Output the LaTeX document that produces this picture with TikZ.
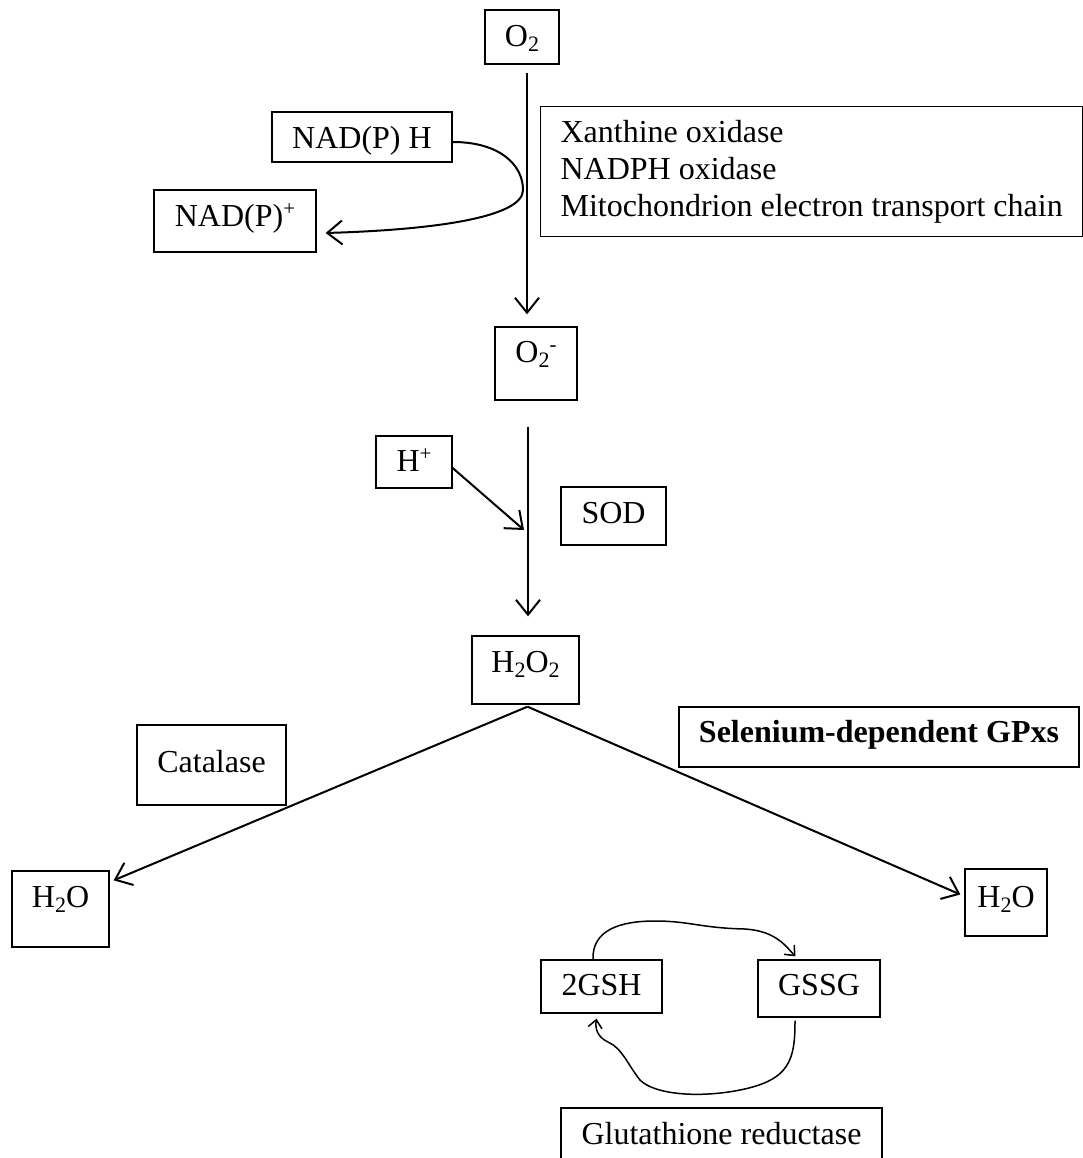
\documentclass[tikz,border=0pt]{standalone}
\usepackage{fontspec}
\setmainfont{Liberation Serif}
\usetikzlibrary{arrows.meta,calc}
\newcommand\sbs[1]{\raisebox{-5pt}{\fontsize{22}{22}\selectfont #1}}
\newcommand\sps[1]{\raisebox{11pt}{\fontsize{21}{21}\selectfont #1}}
\begin{document}
\begin{tikzpicture}[x=1pt,y=-1pt,
  font=\fontsize{32}{37}\selectfont,
  box/.style={draw, line width=1.3pt, inner sep=0pt, anchor=base},
  conn/.style={line width=2pt, -{Straight Barb[length=15pt,width=24pt]}},
  hand/.style={line width=1.5pt, line join=round, -{Straight Barb[length=8pt,width=14pt]}}]
\useasboundingbox (0,0) rectangle (1082,1158);
% boxes
\node[box, minimum width=74, text height=37, text depth=17] (o2) at (522,47) {O\sbs{2}};
\node[box, minimum width=180, text height=37, text depth=13] (nadh) at (362,149) {NAD(P) H};
\node[box, minimum width=162, text height=37, text depth=25] (nadp) at (235,227) {NAD(P)\sps{+}};
\node[draw, line width=1.3pt, anchor=north west, align=left, inner sep=0pt,
      minimum width=542, minimum height=130] (enz) at (540,106)
  {Xanthine oxidase\\NADPH oxidase\\Mitochondrion electron transport chain};
\node[box, minimum width=82, text height=35, text depth=38] (o2m) at (536,362) {O\sbs{2}\sps{-}};
\node[box, minimum width=76, text height=35, text depth=17] (hp) at (414,471) {H\sps{+}};
\node[box, minimum width=105, text height=36, text depth=22] (sod) at (613.5,523) {SOD};
\node[box, minimum width=107, text height=36, text depth=32] (h2o2) at (525.5,672) {H\sbs{2}O\sbs{2}};
\node[box, minimum width=149, text height=47, text depth=33] (cat) at (211.5,772) {Catalase};
\node[box, minimum width=400, text height=35, text depth=25, font=\fontsize{32}{37}\selectfont\bfseries] (se) at (879,742) {Selenium-dependent GPxs};
\node[box, minimum width=97, text height=36, text depth=40] (lh2o) at (60.5,907) {H\sbs{2}O};
\node[box, minimum width=82, text height=38, text depth=29] (rh2o) at (1006,907) {H\sbs{2}O};
\node[box, minimum width=121, text height=35, text depth=18] (gsh) at (601.5,995) {2GSH};
\node[box, minimum width=122, text height=35, text depth=22] (gssg) at (819,995) {GSSG};
\node[box, minimum width=321, text height=36, text depth=31] (gr) at (721.5,1144) {Glutathione reductase};
% connectors
\draw[conn] ($(o2.south)+(5,8)$) -- ($(o2m.north)+(-9,-12)$);
\draw[conn] ($(nadh.east)+(0,5)$) .. controls (500,142) and (523,165) .. (523,190)
  .. controls (523,218) and (430,230) .. ($(nadp.east)+(9,12)$);
\coordinate (sodhit) at (524,530);
\draw[conn] ($(o2m.south)+(-8,26)$) -- ($(h2o2.north)+(2.5,-19)$);
\draw[conn] ($(hp.east)+(0,6)$) -- (sodhit);
\draw[conn] ($(h2o2.south)+(2,2)$) -- ($(lh2o.north east)+(4,10)$);
\draw[conn] ($(h2o2.south)+(2,2)$) -- ($(rh2o.west)+(-4,-8)$);
\draw[hand] ($(gsh.north)+(-8.5,0)$) .. controls (592,930) and (620,921) .. (655,921)
  .. controls (690,921) and (700,928) .. (745,929)
  .. controls (775,931) and (785,945) .. ($(gssg.north west)+(38,-3)$);
\draw[hand] ($(gssg.south)+(-24,3)$) .. controls (795,1060) and (790,1080) .. (740,1090)
  .. controls (700,1098) and (655,1095) .. (640,1080)
  .. controls (628,1065) and (622,1048) .. (608,1042)
  .. controls (597,1037) and (595,1028) .. ($(gsh.south)+(-5,5)$);
\end{tikzpicture}
\end{document}
